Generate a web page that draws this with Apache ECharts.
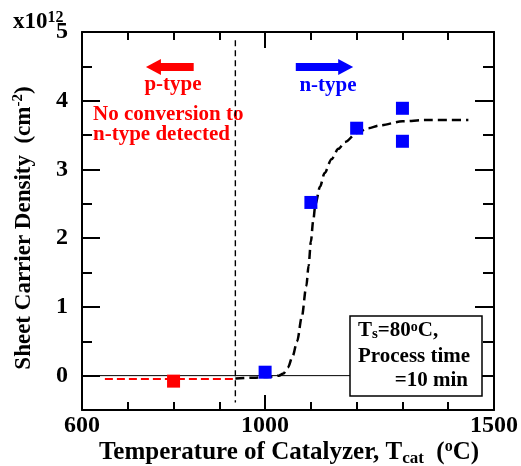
<!DOCTYPE html>
<html>
<head>
<meta charset="utf-8">
<script src="https://cdn.jsdelivr.net/npm/echarts@6/dist/echarts.min.js"></script>
<style>
html,body{margin:0;padding:0;background:#fff;}
#chart{width:521px;height:466px;}
</style>
</head>
<body>
<div id="chart"></div>
<script>
// ---- data ----
var xTickLabels = [600, 1000, 1500];
var yTickLabels = [0, 1, 2, 3, 4, 5];
var pTypeX = [800];
var pTypeY = [-0.08];
var nTypeX = [1000, 1100, 1200, 1300, 1300];
var nTypeY = [0.05, 2.52, 3.60, 3.89, 3.41];
var pFitX = [650, 935];
var pFitY = [-0.05, -0.05];
var nFitX = [935, 980, 1000, 1020, 1030, 1040, 1050, 1060, 1070, 1080, 1090, 1095, 1100, 1105, 1110, 1120, 1130, 1145, 1160, 1175, 1200, 1225, 1250, 1300, 1350, 1444];
var nFitY = [-0.04, -0.03, -0.02, -0.01, 0.0, 0.03, 0.12, 0.28, 0.5, 0.85, 1.3, 1.6, 1.95, 2.25, 2.5, 2.75, 2.95, 3.15, 3.3, 3.4, 3.53, 3.6, 3.64, 3.7, 3.72, 3.72];
var thresholdX = 935;
var thresholdY = [4.88, -0.39];
var zeroLineX = [600, 1500];
var pArrowX = [844, 756];
var nArrowX = [1067, 1176];
var arrowY = 4.49;

function pairs(xs, ys) { return xs.map(function (x, i) { return [x, ys[i]]; }); }

var FONT = '"Liberation Serif","Times New Roman",serif';
var chart = echarts.init(document.getElementById('chart'), null, {renderer: 'canvas'});

function xAx(pos, showLine, tickLen, tickVals, showLabel) {
  var a = {
    type: 'value', position: pos, min: 600, max: 1500, interval: 100,
    axisLine: {show: showLine, onZero: false, lineStyle: {color: '#000', width: 2}},
    axisTick: {show: true, inside: true, length: tickLen, lineStyle: {color: '#000', width: 2}},
    axisLabel: {show: showLabel, margin: 4, color: '#000', fontSize: 24, fontWeight: 'bold', fontFamily: FONT,
      formatter: function (v) { return xTickLabels.indexOf(v) >= 0 ? String(v) : ''; }},
    splitLine: {show: false}
  };
  if (tickVals) a.axisTick.customValues = tickVals;
  return a;
}
function yAx(pos, showLine, tickLen, tickVals, showLabel) {
  var a = {
    type: 'value', position: pos, min: -0.5, max: 5, interval: 0.5,
    axisLine: {show: showLine, onZero: false, lineStyle: {color: '#000', width: 2}},
    axisTick: {show: true, inside: true, length: tickLen, lineStyle: {color: '#000', width: 2}},
    axisLabel: {show: showLabel, margin: 14, color: '#000', fontSize: 24, fontWeight: 'bold', fontFamily: FONT,
      formatter: function (v) { return yTickLabels.indexOf(v) >= 0 ? String(v) : ''; }},
    splitLine: {show: false}
  };
  if (tickVals) a.axisTick.customValues = tickVals;
  return a;
}

var option = {
  animation: false,
  backgroundColor: '#fff',
  grid: {left: 82, right: 23, top: 32, bottom: 56, containLabel: false},
  xAxis: [
    xAx('bottom', true, 8, null, true),
    xAx('bottom', false, 15, [1000], false),
    xAx('top', true, 8, null, false),
    xAx('top', false, 16, [1000], false)
  ],
  yAxis: [
    yAx('left', true, 10, null, true),
    yAx('left', false, 18, yTickLabels, false),
    yAx('right', true, 11, null, false),
    yAx('right', false, 19, yTickLabels, false)
  ],
  series: [
    {type: 'line', data: pairs(zeroLineX, [0, 0]), symbol: 'none', silent: true,
      lineStyle: {color: '#000', width: 1}, z: 1},
    {type: 'line', data: [[thresholdX, thresholdY[0]], [thresholdX, thresholdY[1]]], symbol: 'none', silent: true,
      lineStyle: {color: '#000', width: 1.4, type: [6, 4]}, z: 2},
    {type: 'line', data: pairs(pFitX, pFitY), symbol: 'none', silent: true,
      lineStyle: {color: '#ff0000', width: 2, type: [8, 4]}, z: 3},
    {type: 'line', data: pairs(nFitX, nFitY), symbol: 'none', silent: true, smooth: 0.3, smoothMonotone: 'x',
      lineStyle: {color: '#000', width: 2.5, type: [9, 5]}, z: 3},
    {type: 'scatter', data: pairs(pTypeX, pTypeY), symbol: 'rect', symbolSize: 13,
      itemStyle: {color: '#ff0000', opacity: 1}, z: 4},
    {type: 'scatter', data: pairs(nTypeX, nTypeY), symbol: 'rect', symbolSize: 13,
      itemStyle: {color: '#0000ff', opacity: 1}, z: 4},
    {type: 'line', data: [], silent: true,
      markLine: {silent: true, symbol: ['none', 'triangle'], symbolSize: [16, 15], label: {show: false},
        animation: false,
        data: [
          [{coord: [pArrowX[0], arrowY], lineStyle: {color: '#ff0000', width: 8, type: 'solid'}, itemStyle: {color: '#ff0000'}},
           {coord: [pArrowX[1], arrowY]}],
          [{coord: [nArrowX[0], arrowY], lineStyle: {color: '#0000ff', width: 8, type: 'solid'}, itemStyle: {color: '#0000ff'}},
           {coord: [nArrowX[1], arrowY]}]
        ]}}
  ],
  graphic: [
    {type: 'text', x: 13, y: 22, style: {
      text: '{a|x10}{s|12}', align: 'left', verticalAlign: 'middle', rich: {
        a: {fontSize: 23, fontWeight: 'bold', fontFamily: FONT, fill: '#000', lineHeight: 24},
        s: {fontSize: 16, fontWeight: 'bold', fontFamily: FONT, fill: '#000', verticalAlign: 'top', lineHeight: 14}
      }}},
    {type: 'text', x: 24, y: 228, rotation: Math.PI / 2, style: {
      text: '{a|Sheet Carrier Density  (cm}{s|-2}{a|)}', align: 'center', verticalAlign: 'middle', rich: {
        a: {fontSize: 23, fontWeight: 'bold', fontFamily: FONT, fill: '#000', lineHeight: 26},
        s: {fontSize: 15, fontWeight: 'bold', fontFamily: FONT, fill: '#000', verticalAlign: 'top', lineHeight: 15}
      }}},
    {type: 'text', x: 289, y: 453, style: {
      text: '{a|Temperature of Catalyzer, T}{b|cat}{a|  (}{s|o}{a|C)}', align: 'center', verticalAlign: 'middle', rich: {
        a: {fontSize: 25, fontWeight: 'bold', fontFamily: FONT, fill: '#000', lineHeight: 28},
        b: {fontSize: 17, fontWeight: 'bold', fontFamily: FONT, fill: '#000', verticalAlign: 'bottom', lineHeight: 20},
        s: {fontSize: 16, fontWeight: 'bold', fontFamily: FONT, fill: '#000', verticalAlign: 'top', lineHeight: 16}
      }}},
    {type: 'text', x: 173, y: 85, style: {text: 'p-type', align: 'center', verticalAlign: 'middle',
      font: 'bold 21px ' + FONT, fill: '#ff0000'}},
    {type: 'text', x: 328, y: 86, style: {text: 'n-type', align: 'center', verticalAlign: 'middle',
      font: 'bold 21px ' + FONT, fill: '#0000ff'}},
    {type: 'text', x: 93, y: 115, style: {text: 'No conversion to', align: 'left', verticalAlign: 'middle',
      font: 'bold 21px ' + FONT, fill: '#ff0000'}},
    {type: 'text', x: 93, y: 135, style: {text: 'n-type detected', align: 'left', verticalAlign: 'middle',
      font: 'bold 21px ' + FONT, fill: '#ff0000'}},
    {type: 'rect', shape: {x: 350, y: 316, width: 132, height: 80}, z: 100,
      style: {fill: '#fff', stroke: '#000', lineWidth: 1.5}},
    {type: 'text', x: 358, y: 331, z: 101, style: {
      text: '{a|T}{b|s}{a|=80}{s|o}{a|C,}', align: 'left', verticalAlign: 'middle', rich: {
        a: {fontSize: 21, fontWeight: 'bold', fontFamily: FONT, fill: '#000', lineHeight: 22},
        b: {fontSize: 15, fontWeight: 'bold', fontFamily: FONT, fill: '#000', verticalAlign: 'bottom', lineHeight: 17},
        s: {fontSize: 14, fontWeight: 'bold', fontFamily: FONT, fill: '#000', verticalAlign: 'top', lineHeight: 14}
      }}},
    {type: 'text', x: 358, y: 357, z: 101, style: {text: 'Process time', align: 'left', verticalAlign: 'middle',
      font: 'bold 21px ' + FONT, fill: '#000'}},
    {type: 'text', x: 468, y: 381, z: 101, style: {text: '=10 min', align: 'right', verticalAlign: 'middle',
      font: 'bold 21px ' + FONT, fill: '#000'}}
  ]
};
chart.setOption(option);
</script>
</body>
</html>
